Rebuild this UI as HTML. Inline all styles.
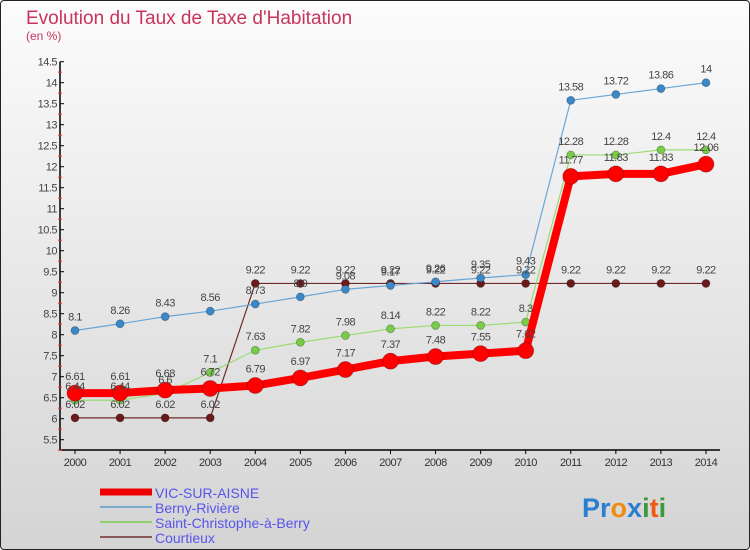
<!DOCTYPE html>
<html><head><meta charset="utf-8"><style>
body{margin:0;width:750px;height:550px;overflow:hidden;font-family:"Liberation Sans",sans-serif}
#wrap{position:absolute;left:0;top:0;width:748px;height:548px;border:1px solid #222;border-radius:4px;background:linear-gradient(#fcfcfc,#d4d4d4)}
</style></head><body>
<div id="wrap">
<svg id="chart" width="750" height="550" style="position:absolute;left:-1px;top:-1px">
<text x="26" y="24" font-size="19" fill="#c8345e">Evolution du Taux de Taxe d'Habitation</text>
<text x="26" y="40" font-size="12" fill="#c8345e">(en %)</text>
<g id="axes"></g><g id="series"></g><g id="labels"></g>
<g>
<line x1="100" y1="492" x2="152" y2="492" stroke="#e00" stroke-width="7"/>
<text x="155" y="498" font-size="14" fill="#5555ee">VIC-SUR-AISNE</text>
<line x1="100" y1="507" x2="152" y2="507" stroke="#7aaace" stroke-width="2"/>
<text x="155" y="513" font-size="14" fill="#5555ee">Berny-Rivière</text>
<line x1="100" y1="522" x2="152" y2="522" stroke="#90d070" stroke-width="2"/>
<text x="155" y="528" font-size="14" fill="#5555ee">Saint-Christophe-à-Berry</text>
<line x1="100" y1="537" x2="152" y2="537" stroke="#8a5a5a" stroke-width="2"/>
<text x="155" y="543" font-size="14" fill="#5555ee">Courtieux</text>
</g>
<text x="582" y="517" font-size="27" font-weight="bold"><tspan fill="#2a7fd0">Pr</tspan><tspan fill="#f08a10">o</tspan><tspan fill="#2a7fd0">x</tspan><tspan fill="#3a9a3a">i</tspan><tspan fill="#f05a10">t</tspan><tspan fill="#3a9a3a">i</tspan></text>
</svg></div>
<script>
const years=[2000,2001,2002,2003,2004,2005,2006,2007,2008,2009,2010,2011,2012,2013,2014];
const vic=[6.61,6.61,6.68,6.72,6.79,6.97,7.17,7.37,7.48,7.55,7.62,11.77,11.83,11.83,12.06];
const berny=[8.1,8.26,8.43,8.56,8.73,8.9,9.08,9.17,9.26,9.35,9.43,13.58,13.72,13.86,14];
const scb=[6.44,6.44,6.6,7.1,7.63,7.82,7.98,8.14,8.22,8.22,8.3,12.28,12.28,12.4,12.4];
const court=[6.02,6.02,6.02,6.02,9.22,9.22,9.22,9.22,9.22,9.22,9.22,9.22,9.22,9.22,9.22];
const yTicks=[5.5,6,6.5,7,7.5,8,8.5,9,9.5,10,10.5,11,11.5,12,12.5,13,13.5,14,14.5];
const NS='http://www.w3.org/2000/svg';
const X=i=>75+i*45.07;
const Y=v=>418.7-(v-6)*42;
function mk(tag,attrs,parent,txt){const e=document.createElementNS(NS,tag);for(const k in attrs)e.setAttribute(k,attrs[k]);if(txt!==undefined)e.textContent=txt;parent.appendChild(e);return e;}
const ax=document.getElementById('axes'),sg=document.getElementById('series'),lg=document.getElementById('labels');
const yl=mk('line',{x1:60,y1:Y(14.5),x2:60,y2:450,stroke:'#000','stroke-width':1.5},ax);


const xl=mk('line',{x1:60,y1:450,x2:720,y2:450,stroke:'#000','stroke-width':1.5},ax);


yTicks.forEach(v=>{
 mk('line',{x1:60,y1:Y(v),x2:64,y2:Y(v),stroke:'#000'},ax);
 mk('line',{x1:58,y1:Y(v)+10.5,x2:62,y2:Y(v)+10.5,stroke:'#e33'},ax);
 const t=mk('text',{x:57,y:Y(v)+4,'font-size':11,fill:'#444','text-anchor':'end','letter-spacing':'-0.5'},ax,String(v));
 
 
});
years.forEach((yr,i)=>{
 mk('line',{x1:X(i),y1:450,x2:X(i),y2:454,stroke:'#000'},ax);
 const t=mk('text',{x:X(i),y:466,'font-size':11,fill:'#333','text-anchor':'middle','letter-spacing':'-0.5'},ax,String(yr));
 
 
});
function series(data,name,color,w,r,dot){
 const pts=data.map((v,i)=>X(i)+','+Y(v)).join(' ');
 const pl=mk('polyline',{points:pts,fill:'none',stroke:color,'stroke-width':w,'stroke-linejoin':'round'},sg);
 
 
 data.forEach((v,i)=>{
  const c=mk('circle',{cx:X(i),cy:Y(v),r:r,fill:dot,stroke:'rgba(0,0,0,0.3)','stroke-width':0.8},sg);
  
  
  const t=mk('text',{x:X(i),y:Y(v)-10-(r>5?3:0),'font-size':11,fill:'#444','text-anchor':'middle','letter-spacing':'-0.5'},lg,String(v));
  
  
 });
}
series(court,'courtieux','#6e2a2a',1.2,4,'#6a1a1a');
series(berny,'berny-riviere','#6aa6d6',1.2,4,'#3a88c8');
series(scb,'saint-christophe','#98dc70',1.2,4,'#78cc48');
series(vic,'vic-sur-aisne','#f00',8,8,'#f00');
</script>
</body></html>
